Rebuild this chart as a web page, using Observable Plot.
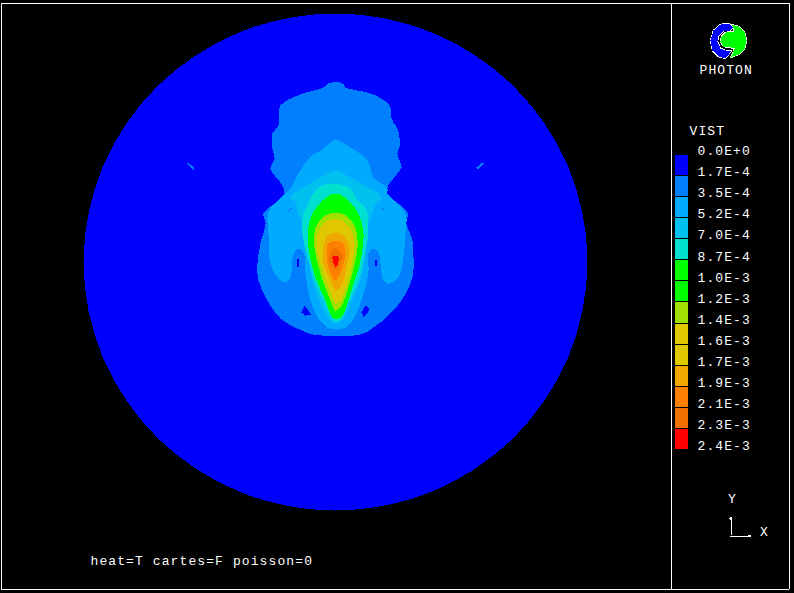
<!DOCTYPE html>
<html><head><meta charset="utf-8">
<script src="https://cdn.jsdelivr.net/npm/d3@7"></script>
<script src="https://cdn.jsdelivr.net/npm/@observablehq/plot@0.6"></script>
<style>html,body{margin:0;padding:0;background:#000;overflow:hidden}svg{display:block}svg text{letter-spacing:1.1px}</style>
</head><body><div id="chart"></div>
<script>
const legendTitle = "VIST";
const legendLabels = ["0.0E+0","1.7E-4","3.5E-4","5.2E-4","7.0E-4","8.7E-4","1.0E-3","1.2E-3","1.4E-3","1.6E-3","1.7E-3","1.9E-3","2.1E-3","2.3E-3","2.4E-3"];
const bandColors = ["#0000ff","#0080ff","#00aaff","#00c0f0","#00e0d0","#00ff00","#00ff00","#a0e000","#e0c800","#e0c800","#f0a800","#ff8000","#f07000","#ff0000"];
const note = "heat=T cartes=F poisson=0";

// Field contours, [x, y] in the picture's own units.
const disk = [[587,261.5],[567.8,356.6],[513.2,437.2],[431.4,491.1],[335,510],[238.6,491.1],[156.8,437.2],[102.2,356.6],[83,261.5],[102.2,166.4],[156.8,85.8],[238.6,31.9],[335,13],[431.4,31.9],[513.2,85.8],[567.8,166.4]];
const level1 = [[326,84],[327,83],[340,82],[344,85],[345,87],[357,90],[373,94],[389,105],[391,117],[393,122],[397,128],[399,137],[399,147],[397,153],[401,167],[397,173],[388,185],[387,193],[407,212],[406,223],[412,240],[413,257],[412,277],[403,297],[390,313],[373,327],[360,334],[313,334],[297,328],[280,318],[267,300],[258,280],[257,263],[260,243],[265,223],[263,213],[283,195],[283,187],[270,168],[274,158],[272,148],[272,133],[278,125],[280,105],[300,94],[323,87]];
const level2 = [[335,139],[330,142],[322,149],[310,156],[298,173],[290,188],[283,195],[268,212],[268,233],[270,263],[278,278],[285,282],[290,277],[292,257],[297,248],[303,252],[305,273],[310,300],[318,318],[327,327],[337,329],[348,325],[355,315],[365,287],[368,270],[368,253],[373,248],[378,252],[382,277],[387,283],[397,278],[403,257],[405,233],[405,213],[387,193],[387,188],[373,177],[367,160],[350,147],[340,141]];
const level3 = [[335,170],[320,177],[303,187],[290,197],[296,203],[298,215],[303,223],[305,240],[308,257],[312,280],[320,303],[328,318],[335,323],[343,318],[350,303],[360,280],[365,253],[368,223],[372,212],[375,203],[381,197],[368,187],[350,177]];
const level4 = [[335,183],[320,186],[312,195],[305,210],[303,213],[302,233],[307,257],[315,283],[325,305],[333,320],[340,320],[347,305],[357,283],[365,250],[368,227],[365,207],[357,200],[350,188],[340,184]];
const level5 = [[335,193],[322,200],[312,213],[308,227],[308,247],[315,277],[325,300],[332,317],[337,319],[342,315],[350,293],[360,260],[363,233],[358,213],[348,200]];
const level6 = [[335,212],[322,217],[315,228],[314,247],[320,273],[330,300],[335,310],[340,307],[350,280],[357,247],[355,227],[347,216]];
const level7 = [[335,218],[323,223],[317,235],[317,250],[323,273],[332,297],[335,303],[340,300],[348,277],[354,247],[352,232],[345,222]];
const level8 = [[335,232],[327,235],[323,245],[323,262],[330,280],[335,290],[340,287],[347,263],[349,247],[343,235]];
const level9 = [[335,240],[328,243],[326,253],[328,267],[335,280],[341,270],[345,253],[343,243]];
const level10 = [[335,248],[330,252],[329,260],[335,270],[340,263],[341,253]];
const level11 = [[332,256],[338,256],[338,261],[337,265],[335,266],[333,262]];
const contours = [
  [level1,1],[level2,2],[level3,3],[level4,4],[level5,5],[level6,7],[level7,8],[level8,10],[level9,11],[level10,12],[level11,13]
];
const lowSpots = [
  [[[304,305],[308,310],[310,314],[305,315],[301,312]],0],
  [[[365,305],[369,308],[367,313],[363,316],[361,312]],0],
  [[[296,258],[298,258],[298,266],[296,266]],0],
  [[[374,259],[376,259],[376,265],[374,265]],0],
  [[[185,162],[187,162],[194,167],[193,169]],1],
  [[[484,162],[482,162],[476,167],[477,169]],1],
  [[[287,210],[290,207],[291,208],[288,211]],1],
  [[[381,207],[384,210],[383,211],[380,208]],1]
];
const logoBlue = [[728,23],[732,27],[730,30],[723,30],[718,35],[717,41],[720,48],[725,50],[731,50],[728,54],[725,58],[718,56],[712,50],[710,40],[713,30],[720,24]];
const logoGreen = [[731,24],[738,26],[744,32],[746,40],[744,48],[738,54],[730,57],[733,51],[734,48],[730,47],[723,46],[720,41],[721,36],[725,32],[733,31],[733,28]];

const poly = (pts, fill, extra = {}) => Plot.line(pts, {x: d => d[0], y: d => d[1], fill, stroke: "none", ...extra});
const closed = (pts, stroke) => Plot.line([...pts, pts[0]], {x: d => d[0], y: d => d[1], stroke, strokeWidth: 1.5});
const swatchTop = 155, rowStep = 21.07, labelTop = 150.5;
const smooth = "catmull-rom-closed";

const chart = Plot.plot({
  width: 794, height: 593, margin: 0,
  x: {domain: [0, 794], range: [0, 794], axis: null},
  y: {domain: [0, 593], range: [0, 593], axis: null},
  style: {background: "#000", shapeRendering: "crispEdges"},
  marks: [
    // frame
    Plot.ruleY([3, 589], {x1: 1, x2: 789, stroke: "#fff", strokeWidth: 1.5}),
    Plot.ruleX([1, 671, 789], {y1: 3, y2: 589, stroke: "#fff", strokeWidth: 1.5}),
    // disk and contours
    poly(disk, bandColors[0], {curve: smooth}),
    ...contours.map(([pts, c]) => poly(pts, bandColors[c], {curve: smooth})),
    ...lowSpots.map(([pts, c]) => poly(pts, bandColors[c])),
    // legend
    Plot.rect(bandColors, {
      x1: () => 675, x2: () => 688,
      y1: (d, i) => swatchTop + i * rowStep,
      y2: (d, i) => swatchTop + (i + 1) * rowStep - 1,
      fill: d => d
    }),
    Plot.text(legendLabels, {x: () => 697, y: (d, i) => labelTop + i * rowStep, text: d => d, fill: "#fff", textAnchor: "start", fontFamily: "Liberation Mono", fontSize: 13}),
    Plot.text([legendTitle], {x: () => 689, y: () => 130, text: d => d, fill: "#fff", textAnchor: "start", fontFamily: "Liberation Mono", fontSize: 13}),
    Plot.text([note], {x: () => 90, y: () => 560, text: d => d, fill: "#fff", textAnchor: "start", fontFamily: "Liberation Mono", fontSize: 13}),
    // logo
    closed(logoBlue, "#fff"), closed(logoGreen, "#fff"),
    poly(logoBlue, "#0000ff"), poly(logoGreen, "#00ff00"),
    Plot.text(["PHOTON"], {x: () => 699, y: () => 69, text: d => d, fill: "#fff", textAnchor: "start", fontFamily: "Liberation Mono", fontSize: 13}),
    // axis triad
    Plot.ruleX([730.5], {y1: 518, y2: 535, stroke: "#fff", strokeWidth: 1}),
    Plot.ruleY([535.5], {x1: 730, x2: 749, stroke: "#fff", strokeWidth: 1}),
    Plot.dot([[730.5,518],[749,535.5]], {x: d => d[0], y: d => d[1], r: 1.5, fill: "#fff"}),
    Plot.text(["Y"], {x: () => 732, y: () => 498, text: d => d, fill: "#fff", fontFamily: "Liberation Mono", fontSize: 13}),
    Plot.text(["X"], {x: () => 764, y: () => 531, text: d => d, fill: "#fff", fontFamily: "Liberation Mono", fontSize: 13})
  ]
});
document.getElementById("chart").append(chart);
</script></body></html>
